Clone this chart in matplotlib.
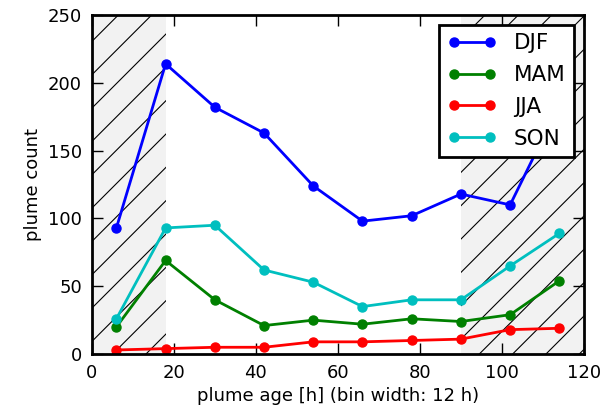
import numpy as np
import matplotlib
matplotlib.use('Agg')
import matplotlib.pyplot as plt

plt.rcParams['hatch.linewidth'] = 0.8
plt.rcParams['font.family'] = 'DejaVu Sans'

age = [6, 18, 30, 42, 54, 66, 78, 90, 102, 114]
djf = [93, 214, 182, 163, 124, 98, 102, 118, 110, 184]
mam = [20, 69, 40, 21, 25, 22, 26, 24, 29, 54]
jja = [3, 4, 5, 5, 9, 9, 10, 11, 18, 19]
son = [26, 93, 95, 62, 53, 35, 40, 40, 65, 89]

fig = plt.figure(figsize=(6.16, 4.18), dpi=100)
ax = fig.add_axes([0.149, 0.153, 0.799, 0.811])

# shaded (unreliable) regions
ax.axvspan(0, 18, facecolor='#f2f2f2', edgecolor='k', hatch='/', linewidth=0, zorder=0)
ax.axvspan(90, 120, facecolor='#f2f2f2', edgecolor='k', hatch='/', linewidth=0, zorder=0)

ax.plot(age, djf, 'o-', color='b', lw=2, ms=6.5, mec='b', label='DJF')
ax.plot(age, mam, 'o-', color='g', lw=2, ms=6.5, mec='g', label='MAM')
ax.plot(age, jja, 'o-', color='r', lw=2, ms=6.5, mec='r', label='JJA')
ax.plot(age, son, 'o-', color='c', lw=2, ms=6.5, mec='c', label='SON')

ax.set_xlim(0, 120)
ax.set_ylim(0, 250)
ax.set_xticks(np.arange(0, 121, 20))
ax.set_yticks(np.arange(0, 251, 50))
ax.tick_params(direction='in', top=True, right=True, length=8, width=1, labelsize=13, pad=7)
for s in ax.spines.values():
    s.set_linewidth(2)

ax.set_xlabel('plume age [h] (bin width: 12 h)', fontsize=13)
ax.set_ylabel('plume count', fontsize=13)

leg = ax.legend(loc='upper right', numpoints=2, fontsize=15.5, fancybox=False,
                framealpha=1, borderaxespad=0.45, handlelength=2.3, labelspacing=0.55)
leg.get_frame().set_edgecolor('k')
leg.get_frame().set_linewidth(2)

fig.savefig('out.png', dpi=100)
